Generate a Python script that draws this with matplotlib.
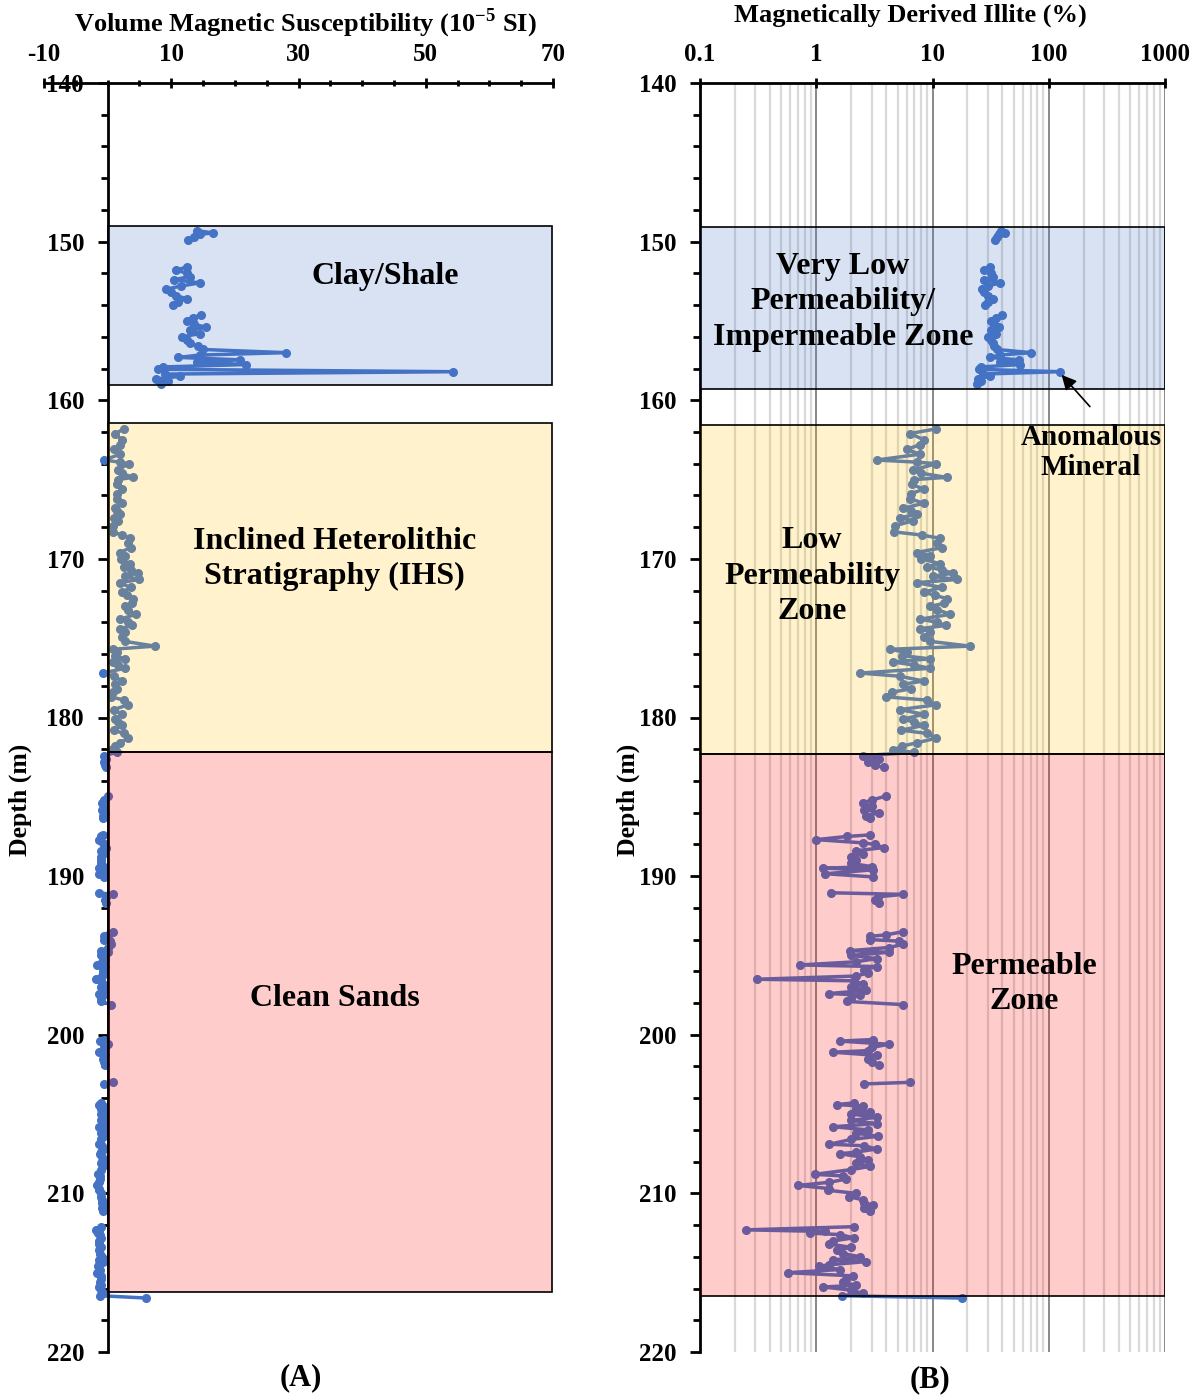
import numpy as np
import matplotlib
matplotlib.use("Agg")
import matplotlib.pyplot as plt
from matplotlib.patches import Rectangle
from matplotlib.ticker import MultipleLocator, FixedLocator, LogLocator, NullFormatter

plt.rcParams['font.family'] = ['Liberation Serif', 'DejaVu Serif']
plt.rcParams['font.weight'] = 'bold'
plt.rcParams['axes.unicode_minus'] = False
plt.rcParams['mathtext.fontset'] = 'custom'
plt.rcParams['mathtext.rm'] = 'Liberation Serif:bold'
plt.rcParams['mathtext.bf'] = 'Liberation Serif:bold'

nan = np.nan

# depth (m), volume magnetic susceptibility (1e-5 SI), magnetically derived illite (%)
# nan entries are gaps in the log
depth = [
    149.30, 149.45, 149.55, 149.70, 149.90, nan,
    151.60, 151.80, 152.00, 152.20, 152.40, 152.60, 152.80, 153.00, 153.20, 153.40,
    153.60, 153.80, 154.00, nan,
    154.60, 154.80, 155.00, 155.20, 155.40, 155.60, 155.80, 156.00, 156.20, 156.40,
    156.60, 156.80, 157.00, 157.15, 157.30, 157.45, 157.60, 157.75, 157.90, 158.05,
    158.20, 158.35, 158.50, 158.65, 158.80, 159.00, nan,
    161.80, 162.10, 162.50, 162.80, 163.10, 163.40, 163.77, 163.90, 164.00, 164.40,
    164.60, 164.86, 165.00, 165.30, 165.60, 165.90, 166.20, 166.50, 166.80, 167.00,
    167.20, 167.40, 167.60, 167.90, 168.30, 168.50, 168.70, 169.00, 169.30, 169.60,
    169.80, 170.00, 170.30, 170.50, 170.70, 170.90, 171.10, 171.30, 171.50, 171.80,
    172.10, 172.30, 172.50, 172.80, 173.00, 173.20, 173.50, 173.80, 174.00, 174.20,
    174.40, 174.60, 174.90, 175.20, 175.50, 175.70, 175.90, 176.10, 176.30, 176.50,
    176.70, 176.90, 177.20, 177.40, 177.70, 177.90, 178.20, 178.40, 178.70, 178.90,
    179.20, 179.50, 179.80, 180.10, 180.30, 180.50, 180.80, 181.00, 181.30, 181.60,
    181.80, 182.05, 182.20, 182.40, 182.60, 182.80, 183.00, 183.15, nan,
    184.95, 185.20, 185.40, 185.60, 185.80, 186.00, 186.20, 186.35, nan,
    187.40, 187.50, 187.70, 187.90, 188.00, 188.20, 188.40, 188.60, 188.80, 189.00,
    189.20, 189.40, 189.50, 189.60, 189.85, 190.05, nan,
    191.05, 191.15, 191.30, 191.50, 191.70, nan,
    193.50, 193.70, 193.80, 194.00, 194.10, 194.30, 194.50, 194.70, 194.80, 195.00,
    195.20, 195.40, 195.60, 195.70, 195.90, 196.10, 196.30, 196.50, 196.60, 196.80,
    197.00, 197.20, 197.40, 197.50, 197.70, 197.90, 198.10, nan,
    200.30, 200.40, 200.60, 200.80, 201.00, 201.10, 201.30, 201.50, 201.70, 201.90, nan,
    203.00, 203.10, nan,
    204.30, 204.40, 204.50, 204.70, 204.90, 205.00, 205.20, 205.40, 205.60, 205.80,
    206.00, 206.20, 206.40, 206.60, 206.90, 207.00, 207.20, 207.40, 207.50, 207.70,
    207.90, 208.10, 208.30, 208.50, 208.80, 208.90, 209.10, 209.30, 209.50, 209.70,
    209.80, 210.00, 210.20, 210.40, 210.60, 210.75, 210.90, 211.10, nan,
    212.10, 212.30, 212.40, 212.50, 212.60, 212.80, 213.00, 213.20, 213.40, 213.60,
    213.80, 214.00, 214.20, 214.30, 214.50, 214.60, 214.80, 215.00, 215.20, 215.40,
    215.60, 215.80, 215.90, 216.10, 216.30, 216.45, 216.60,
]

susceptibility = [
    14.0, 16.5, 14.5, 13.5, 12.6, nan,
    12.4, 10.8, 12.5, 12.9, 10.5, 14.5, 11.5, 9.2, 10.0, 10.8,
    12.4, 11.0, 10.2, nan,
    14.7, 13.4, 12.4, 13.5, 15.5, 12.9, 14.5, 11.7, 12.5, 12.9,
    14.2, 15.0, 28.1, 14.5, 11.1, 20.8, 14.0, 21.8, 8.7, 7.9,
    54.3, 9.0, 11.3, 7.6, 9.5, 8.4, nan,
    2.6, 1.2, 2.2, 2.0, 1.0, 2.0, -0.6, 1.9, 3.3, 1.6,
    2.2, 4.0, 1.7, 1.5, 2.3, 1.4, 1.4, 2.3, 1.1, 1.5,
    1.9, 1.0, 1.7, 0.8, 0.8, 2.2, 3.5, 3.2, 3.6, 1.9,
    2.7, 2.1, 3.5, 2.5, 3.6, 4.7, 2.8, 5.0, 1.9, 3.6,
    2.3, 3.1, 4.0, 3.8, 2.7, 3.2, 4.4, 2.0, 3.2, 3.9,
    2.0, 2.7, 2.3, 2.7, 7.4, 0.8, 1.4, 1.2, 2.7, 0.9,
    1.7, 2.7, -0.8, 1.0, 2.3, 1.1, 1.5, 0.8, 0.6, 2.5,
    3.2, 1.0, 2.3, 1.1, 1.7, 2.3, 1.0, 2.5, 3.2, 1.9,
    1.1, 0.6, 1.5, -0.5, -0.3, -0.6, -0.4, -0.2, nan,
    0.1, -0.6, -0.9, -0.6, -0.9, -0.4, -0.8, -0.7, nan,
    -0.7, -1.1, -1.4, -0.8, -0.5, -0.3, -1.0, -0.8, -1.1, -1.0,
    -1.1, -0.6, -1.4, -0.5, -1.3, -0.5, nan,
    -1.3, 0.8, -0.3, -0.4, -0.3, nan,
    0.8, 0.0, -0.6, -0.6, 0.4, 0.6, 0.1, -1.0, 0.1, -1.0,
    -0.4, -0.9, -1.6, -0.4, -0.8, -0.7, -0.9, -1.8, -1.0, -0.8,
    -1.0, -0.7, -1.4, -0.8, -1.0, -1.1, 0.6, nan,
    -0.5, -1.2, 0.1, -0.6, -0.7, -1.3, -0.4, -0.7, -0.6, -0.4, nan,
    0.8, -0.5, nan,
    -1.0, -1.3, -0.8, -1.0, -0.7, -1.1, -0.6, -1.1, -0.6, -1.3,
    -0.8, -1.0, -0.6, -1.1, -1.4, -0.9, -0.6, -1.0, -1.2, -0.9,
    -0.8, -1.0, -0.7, -1.1, -1.5, -1.2, -1.2, -1.4, -1.6, -1.4,
    -1.4, -1.0, -1.1, -0.9, -0.9, -0.7, -0.9, -0.8, nan,
    -1.0, -1.9, -1.3, -1.5, -1.2, -1.0, -1.3, -1.4, -1.1, -1.3,
    -1.2, -0.9, -1.3, -0.8, -1.4, -1.5, -1.2, -1.7, -1.0, -1.1,
    -1.2, -1.0, -1.4, -1.0, -0.8, -1.2, 6.1,
]

illite = [
    39, 42, 37, 36, 34.5, nan,
    31, 28, 32, 33, 28, 38, 30, 26.6, 28, 30,
    33, 30, 28.3, nan,
    39.4, 35, 32, 34, 37, 32, 35, 30, 32, 33,
    34, 36, 71, 38, 31, 55, 38, 57, 26, 25,
    125, 27, 31, 24.5, 26, 24, nan,
    10.8, 6.4, 8.5, 7.8, 6.0, 7.8, 3.3, 7.3, 10.8, 6.8,
    8.0, 13.2, 7.0, 6.6, 8.4, 6.5, 6.4, 8.4, 5.6, 6.5,
    7.3, 5.25, 6.8, 4.8, 4.7, 8.1, 11.6, 11.0, 12.0, 7.3,
    9.5, 8.0, 11.6, 9.0, 12.0, 15.1, 10.0, 16.2, 7.3, 12.0,
    8.4, 10.5, 13.2, 12.5, 9.5, 11.0, 14.2, 7.8, 11.0, 13.0,
    7.8, 9.5, 8.5, 9.5, 21.0, 4.3, 6.0, 5.5, 9.5, 4.6,
    7.0, 9.5, 2.4, 5.25, 8.4, 5.6, 6.5, 4.5, 4.0, 8.9,
    10.8, 5.25, 8.4, 5.6, 7.0, 8.4, 5.4, 8.9, 10.8, 7.3,
    5.5, 4.6, 7.0, 2.5, 3.5, 2.8, 3.2, 3.8, nan,
    4.0, 3.0, 2.5, 3.0, 2.6, 3.5, 2.7, 2.9, nan,
    2.9, 1.83, 1.0, 2.5, 3.2, 3.8, 2.2, 2.5, 2.0, 2.2,
    2.0, 3.0, 1.15, 3.1, 1.2, 3.1, nan,
    1.35, 5.6, 3.4, 3.2, 3.5, nan,
    5.6, 4.0, 2.9, 2.9, 5.2, 5.6, 4.2, 1.95, 4.2, 2.0,
    3.3, 2.2, 0.72, 3.3, 2.6, 2.8, 2.2, 0.31, 2.1, 2.5,
    2.0, 2.7, 1.3, 2.4, 2.0, 1.83, 5.6, nan,
    3.1, 1.6, 4.2, 3.0, 2.8, 1.4, 3.3, 2.8, 3.0, 3.5, nan,
    6.4, 2.6, nan,
    2.1, 1.5, 2.5, 2.2, 2.9, 2.0, 3.3, 2.0, 3.3, 1.4,
    2.8, 2.2, 3.4, 2.0, 1.3, 2.6, 3.3, 2.2, 1.6, 2.4,
    2.8, 2.2, 2.9, 2.0, 0.97, 1.7, 1.8, 1.3, 0.7, 1.3,
    1.25, 2.2, 1.9, 2.5, 2.6, 3.1, 2.6, 2.9, nan,
    2.1, 0.25, 1.2, 0.88, 1.6, 2.1, 1.4, 1.3, 2.0, 1.5,
    1.7, 2.4, 1.4, 2.7, 1.3, 1.05, 1.6, 0.57, 2.07, 1.8,
    1.7, 2.2, 1.15, 2.0, 2.5, 1.65, 17.8,
]

# interpreted zones (top / bottom depth in m) for each panel
zone_colors = ['#4472C4', '#FFC000', '#FF0000']
zone_top_a = [149.0, 161.45, 182.2]
zone_bottom_a = [159.05, 182.2, 216.2]
zone_top_b = [149.1, 161.55, 182.3]
zone_bottom_b = [159.3, 182.3, 216.5]

line_color = '#4472C4'
W, H = 1203, 1399

fig = plt.figure(figsize=(W / 100, H / 100), dpi=100)

# ---------- (A) susceptibility ----------
ax_a = fig.add_axes([44 / W, 47 / H, 509 / W, 1269 / H])
ax_a.plot(susceptibility, depth, color=line_color, lw=2.5, marker='o', ms=5.5, zorder=2)
for top, bot, col in zip(zone_top_a, zone_bottom_a, zone_colors):
    ax_a.add_patch(Rectangle((0, top), 69.8, bot - top, facecolor=col, alpha=0.2,
                             edgecolor='none', zorder=3))
    ax_a.add_patch(Rectangle((0, top), 69.8, bot - top, fill=False, edgecolor='black',
                             lw=1.2, zorder=3))

ax_a.set_xlim(-10, 70)
ax_a.set_ylim(220, 140)
ax_a.spines['left'].set_position(('data', 0))
ax_a.spines['right'].set_visible(False)
ax_a.spines['bottom'].set_visible(False)
ax_a.spines['left'].set_linewidth(2)
ax_a.spines['top'].set_linewidth(2)
ax_a.xaxis.tick_top()
ax_a.set_xticks([-10, 10, 30, 50, 70])
ax_a.xaxis.set_minor_locator(MultipleLocator(5))
ax_a.tick_params(axis='x', which='major', direction='inout', length=7, width=2,
                 pad=9, labelsize=18)
ax_a.tick_params(axis='x', which='minor', direction='inout', length=4, width=2)

ax_a.text(43.6, 152.2, 'Clay/Shale', ha='center', va='center', fontsize=23, zorder=5)
ax_a.text(35.7, 170.0, 'Inclined Heterolithic\nStratigraphy (IHS)', ha='center',
          va='center', fontsize=23, linespacing=1.3, zorder=5)
ax_a.text(35.7, 197.7, 'Clean Sands', ha='center', va='center', fontsize=23, zorder=5)

# ---------- (B) illite ----------
ax_b = fig.add_axes([700 / W, 47 / H, 465 / W, 1269 / H])
ax_b.set_xscale('log')
ax_b.plot(illite, depth, color=line_color, lw=2.5, marker='o', ms=5.5, zorder=2)
for top, bot, col in zip(zone_top_b, zone_bottom_b, zone_colors):
    ax_b.add_patch(Rectangle((0.1, top), 999.9, bot - top, facecolor=col, alpha=0.2,
                             edgecolor='none', zorder=3))
    ax_b.add_patch(Rectangle((0.1, top), 999.9, bot - top, fill=False, edgecolor='black',
                             lw=1.2, zorder=3))

ax_b.set_xlim(0.1, 1000)
ax_b.set_ylim(220, 140)
ax_b.spines['right'].set_visible(False)
ax_b.spines['bottom'].set_visible(False)
ax_b.spines['left'].set_linewidth(2)
ax_b.spines['top'].set_linewidth(2)
ax_b.xaxis.tick_top()
ax_b.xaxis.set_major_locator(FixedLocator([0.1, 1, 10, 100, 1000]))
ax_b.set_xticklabels(['0.1', '1', '10', '100', '1000'])
ax_b.xaxis.set_minor_locator(LogLocator(base=10, subs=np.arange(2, 10)))
ax_b.xaxis.set_minor_formatter(NullFormatter())
ax_b.tick_params(axis='x', which='major', direction='inout', length=7, width=2,
                 pad=9, labelsize=18)
ax_b.tick_params(axis='x', which='minor', length=0)
ax_b.grid(True, which='major', axis='x', color='#7F7F7F', lw=1.3, zorder=0)
ax_b.grid(True, which='minor', axis='x', color='#D9D9D9', lw=1.6, zorder=0)
ax_b.set_axisbelow(True)

ax_b.text(1.7, 153.8, 'Very Low\nPermeability/\nImpermeable Zone', ha='center',
          va='center', fontsize=23, linespacing=1.3, zorder=5)
ax_b.text(0.92, 171.1, 'Low\nPermeability\nZone', ha='center', va='center',
          fontsize=23, linespacing=1.3, zorder=5)
ax_b.text(62, 196.8, 'Permeable\nZone', ha='center', va='center', fontsize=23,
          linespacing=1.3, zorder=5)
ax_b.text(231, 163.3, 'Anomalous\nMineral', ha='center', va='center', fontsize=21,
          linespacing=1.15, zorder=5)
ax_b.annotate('', xy=(129, 158.4), xytext=(226, 160.4),
              arrowprops=dict(arrowstyle='-|>', color='black', lw=1.2,
                              mutation_scale=22, shrinkA=0, shrinkB=0), zorder=5)

# shared y styling
for ax in (ax_a, ax_b):
    ax.set_yticks(range(140, 221, 10))
    ax.yaxis.set_minor_locator(MultipleLocator(2))
    ax.tick_params(axis='y', which='major', direction='out', length=7, width=2,
                   pad=10, labelsize=18)
    ax.tick_params(axis='y', which='minor', direction='out', length=5, width=2)

fig.text(20 / W, 1 - 800 / H, 'Depth (m)', rotation=90, ha='center', va='center',
         fontsize=18.5)
fig.text(628 / W, 1 - 800 / H, 'Depth (m)', rotation=90, ha='center', va='center',
         fontsize=18.5)
fig.text(305 / W, 1 - 23 / H, r'Volume Magnetic Susceptibility (10$^{-5}$ SI)',
         ha='center', va='center', fontsize=19)
fig.text(910 / W, 1 - 15 / H, 'Magnetically Derived Illite (%)', ha='center',
         va='center', fontsize=19)
fig.text(301 / W, 1 - 1378 / H, '(A)', ha='center', va='center', fontsize=22)
fig.text(930 / W, 1 - 1380 / H, '(B)', ha='center', va='center', fontsize=22)

fig.savefig('out.png', dpi=100)
